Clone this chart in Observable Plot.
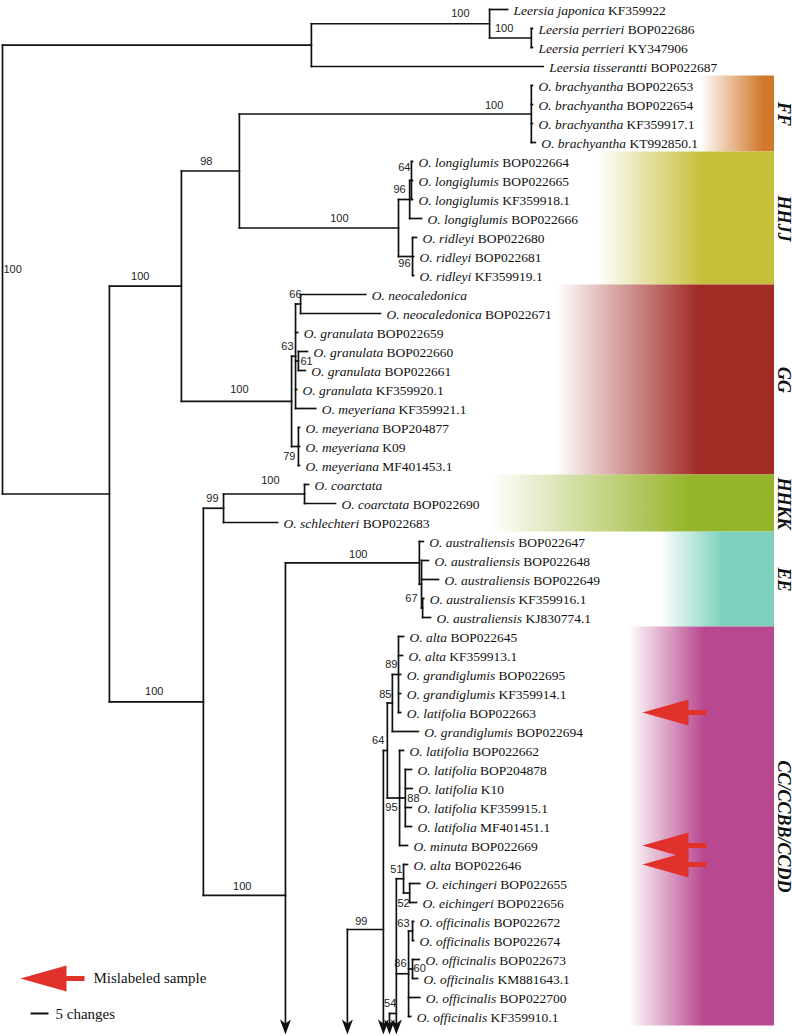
<!DOCTYPE html>
<html><head><meta charset="utf-8">
<script src="https://cdn.jsdelivr.net/npm/d3@7"></script>
<script src="https://cdn.jsdelivr.net/npm/@observablehq/plot@0.6"></script>
<style>
body{margin:0;background:#fff;}
#chart svg{display:block;}
</style></head><body><div id="chart"></div>
<script>
// ---------------- DATA ----------------
// Internal nodes: [id, parent, branch length (changes), bootstrap support]
// parent "off" = the node's parent lies below the cropped figure; the length is then its depth from the root.
const internalNodes = [
  ["root", null, 0, 100],
  ["Leer", "root", 85.8, null],
  ["LeerA", "Leer", 49.5, 100],
  ["LeerP", "LeerA", 11.6, 100],
  ["Ory", "root", 29.7, null],
  ["FHG", "Ory", 20.0, 100],
  ["FH", "FHG", 16.1, 98],
  ["FF", "FH", 81.1, 100],
  ["HJ", "FH", 44.2, 100],
  ["HJlong", "HJ", 3.1, 96],
  ["HJlong64", "HJlong", 0.5, 64],
  ["HJrid", "HJ", 3.9, 96],
  ["GG", "FHG", 30.6, 100],
  ["GG63", "GG", 1.1, 63],
  ["GGneo", "GG63", 1.4, 66],
  ["GGgran", "GG63", 0.8, 61],
  ["GGmey", "GG", 1.9, 79],
  ["KE", "Ory", 26.1, 100],
  ["KS", "KE", 5.6, 99],
  ["KK", "KS", 22.5, 100],
  ["EC", "KE", 22.8, 100],
  ["EE", "EC", 37.2, 100],
  ["EE2", "EE", 0.6, null],
  ["EE67", "EE2", 0.3, 67],
  ["C99", "off", 95.8, null],
  ["C64", "C99", 10.0, 99],
  ["C64b", "C64", 1.1, 64],
  ["C85", "C64b", 1.4, 85],
  ["C89", "C85", 1.7, 89],
  ["C95", "C64b", 3.4, 95],
  ["C88", "C95", 1.6, 88],
  ["C54", "off", 107.5, null],
  ["C54b", "C54", 1.9, 54],
  ["C51", "C54b", 2.0, 51],
  ["C52", "C51", 1.7, 52],
  ["C86", "C54b", 3.4, 86],
  ["C63", "C86", 1.1, 63],
  ["C60", "C86", 1.1, 60]
];

// Leaves in drawing order: [species, accession, parent, branch length (changes)]
const leaves = [
  ["Leersia japonica", "KF359922", "LeerA", 5.0],
  ["Leersia perrieri", "BOP022686", "LeerP", 0.3],
  ["Leersia perrieri", "KY347906", "LeerP", 0.3],
  ["Leersia tisserantti", "BOP022687", "Leer", 64.4],
  ["O. brachyantha", "BOP022653", "FF", 0.3],
  ["O. brachyantha", "BOP022654", "FF", 0.3],
  ["O. brachyantha", "KF359917.1", "FF", 0.3],
  ["O. brachyantha", "KT992850.1", "FF", 1.1],
  ["O. longiglumis", "BOP022664", "HJlong64", 0.3],
  ["O. longiglumis", "BOP022665", "HJlong64", 0.3],
  ["O. longiglumis", "KF359918.1", "HJlong64", 0.3],
  ["O. longiglumis", "BOP022666", "HJlong", 3.3],
  ["O. ridleyi", "BOP022680", "HJrid", 1.1],
  ["O. ridleyi", "BOP022681", "HJrid", 0.3],
  ["O. ridleyi", "KF359919.1", "HJrid", 0.3],
  ["O. neocaledonica", "", "GGneo", 18.1],
  ["O. neocaledonica", "BOP022671", "GGneo", 22.2],
  ["O. granulata", "BOP022659", "GG63", 0.6],
  ["O. granulata", "BOP022660", "GGgran", 2.5],
  ["O. granulata", "BOP022661", "GGgran", 1.9],
  ["O. granulata", "KF359920.1", "GG63", 0.3],
  ["O. meyeriana", "KF359921.1", "GG63", 5.6],
  ["O. meyeriana", "BOP204877", "GGmey", 0.3],
  ["O. meyeriana", "K09", "GGmey", 0.3],
  ["O. meyeriana", "MF401453.1", "GGmey", 0.3],
  ["O. coarctata", "", "KK", 1.1],
  ["O. coarctata", "BOP022690", "KK", 8.6],
  ["O. schlechteri", "BOP022683", "KS", 15.0],
  ["O. australiensis", "BOP022647", "EE", 1.1],
  ["O. australiensis", "BOP022648", "EE2", 1.9],
  ["O. australiensis", "BOP022649", "EE2", 4.7],
  ["O. australiensis", "KF359916.1", "EE67", 0.3],
  ["O. australiensis", "KJ830774.1", "EE67", 2.2],
  ["O. alta", "BOP022645", "C89", 1.4],
  ["O. alta", "KF359913.1", "C89", 1.1],
  ["O. grandiglumis", "BOP022695", "C89", 0.6],
  ["O. grandiglumis", "KF359914.1", "C89", 0.6],
  ["O. latifolia", "BOP022663", "C89", 0.6],
  ["O. grandiglumis", "BOP022694", "C85", 7.2],
  ["O. latifolia", "BOP022662", "C95", 1.1],
  ["O. latifolia", "BOP204878", "C88", 1.7],
  ["O. latifolia", "K10", "C88", 1.9],
  ["O. latifolia", "KF359915.1", "C88", 1.7],
  ["O. latifolia", "MF401451.1", "C88", 1.7],
  ["O. minuta", "BOP022669", "C95", 2.2],
  ["O. alta", "BOP022646", "C51", 1.1],
  ["O. eichingeri", "BOP022655", "C52", 2.8],
  ["O. eichingeri", "BOP022656", "C52", 1.9],
  ["O. officinalis", "BOP022672", "C63", 0.3],
  ["O. officinalis", "BOP022674", "C63", 0.3],
  ["O. officinalis", "BOP022673", "C60", 1.9],
  ["O. officinalis", "KM881643.1", "C60", 1.4],
  ["O. officinalis", "BOP022700", "C86", 3.1],
  ["O. officinalis", "KF359910.1", "C86", 0.6]
];

// Nodes whose lineage continues below the cropped figure (drawn with arrows)
const continuingNodes = ["EC", "C99", "C64", "C54", "C54b"];
// Row (leaf-index units) where the parent branch meets those nodes
const joinRows = [["EC", 46.63], ["C64", 48.42], ["C54b", 52.84]];

// Genome-type clades: names, first and last leaf row, colours
const cladeNames = ["FF", "HHJJ", "GG", "HHKK", "EE", "CC/CCBB/CCDD"];
const cladeFirst = [4, 8, 15, 25, 28, 33];
const cladeLast = [7, 14, 24, 27, 32, 53];
const cladeColors = ["#D2782B", "#C6BF3A", "#A12C26", "#97B52B", "#7ED1BD", "#B8488F"];

// Mislabeled samples (accessions)
const mislabeled = ["BOP022663", "BOP022669", "BOP022646"];
const scaleBarChanges = 5;

// ---------------- LAYOUT / STYLE ----------------
const PXC = 3.6, X0 = 2, ROWPX = 19, Y0 = 9;
const xAt = px => (px - X0) / PXC;      // pixel -> changes
const rowAt = px => (px - Y0) / ROWPX;  // pixel -> row
const SERIF = "'Liberation Serif','Times New Roman',serif";
const SANS = "'Liberation Sans',Arial,sans-serif";
const cladeFadeStartPx = [700, 597, 556, 490, 660, 628];
const cladeSolidAt = [0.85, 0.6, 0.65, 0.7, 0.55, 0.52];
const cladeRightPx = 774, cladeLabelPx = 783;
// support label placement: [anchor, dx px, dy px]
const supportPlacement = {
  root: ["start", 1, 0], LeerA: ["end", -20, -10], LeerP: ["end", -18, -10],
  FF: ["end", -28, -9], FH: ["end", -27, -10], HJ: ["end", -50, -10],
  HJlong: ["end", -4, -10], HJlong64: ["end", -1, -13], HJrid: ["end", -2, 7],
  FHG: ["end", -32, -10], GG: ["end", -43, -12], GGneo: ["end", 1, -10],
  GG63: ["end", -2, -10], GGgran: ["start", 2, 0], GGmey: ["end", -3, 10],
  KE: ["end", -40, -10], KS: ["end", -5, -10], KK: ["end", -25, -14],
  EC: ["end", -34, -9], EE: ["end", -52, -8], EE67: ["end", -5, -10],
  C64: ["end", -16, -8], C64b: ["end", -3, -10], C85: ["end", -1, -9],
  C89: ["end", -1, -10], C95: ["end", -2, 9], C88: ["start", 2, 0],
  C54b: ["end", 0, -10], C51: ["end", -1, -9], C52: ["end", 0, 10],
  C63: ["end", -3, -8], C86: ["end", -2, -10], C60: ["start", 1, -1]
};
const CONT_LINE_END = rowAt(1027), CONT_TIP = rowAt(1034);

// ---------------- BUILD TREE ----------------
const N = new Map();
internalNodes.forEach(([id, parent, len, support]) => N.set(id, {id, parent, len, support, children: [], leaf: false}));
leaves.forEach(([species, acc, parent, len], i) => N.set("leaf" + i, {id: "leaf" + i, parent, len, species, acc, row: i, children: [], leaf: true}));
for (const n of N.values()) if (n.parent && N.has(n.parent)) N.get(n.parent).children.push(n);
const joinMap = new Map(joinRows);
function depth(n) {
  if (n.depth !== undefined) return n.depth;
  return n.depth = n.parent === null ? 0 : (N.has(n.parent) ? depth(N.get(n.parent)) + n.len : n.len);
}
function row(n) {
  if (n.row !== undefined) return n.row;
  if (joinMap.has(n.id)) return n.row = joinMap.get(n.id);
  const rs = n.children.map(row);
  return n.row = (Math.min(...rs) + Math.max(...rs)) / 2;
}
for (const n of N.values()) { depth(n); row(n); }

const segs = [];
for (const n of N.values()) {
  if (n.parent && N.has(n.parent)) segs.push({x1: N.get(n.parent).depth, x2: n.depth, y1: n.row, y2: n.row});
  if (!n.leaf) {
    const rs = n.children.map(c => c.row);
    const top = Math.min(...rs);
    const bot = continuingNodes.includes(n.id) ? CONT_LINE_END : Math.max(...rs);
    segs.push({x1: n.depth, x2: n.depth, y1: top, y2: bot});
  }
}
const arrowTips = continuingNodes.map(id => ({x: N.get(id).depth, y: CONT_TIP}));

const supports = [...N.values()].filter(n => n.support != null).map(n => {
  const [anchor, dx, dy] = supportPlacement[n.id];
  return {anchor, x: n.depth + dx / PXC, y: n.row + dy / ROWPX, text: String(n.support)};
});

const leafData = [...N.values()].filter(n => n.leaf).sort((a, b) => a.row - b.row)
  .map(n => ({x: n.depth + 6 / PXC, y: n.row, species: n.species, acc: n.acc,
              label: n.species + (n.acc ? " " + n.acc : "")}));

const clades = cladeNames.map((name, i) => ({name, i, first: cladeFirst[i], last: cladeLast[i], color: cladeColors[i]}));
const misRows = mislabeled.map(acc => leaves.findIndex(l => l[1] === acc));

// symbols
const downArrow = {draw(ctx) { ctx.moveTo(0, 0); ctx.lineTo(-5.5, -15); ctx.lineTo(0, -11); ctx.lineTo(5.5, -15); ctx.closePath(); }};
const redArrow = {draw(ctx) {
  ctx.moveTo(0, 0); ctx.lineTo(46, -13); ctx.lineTo(46, -2.5); ctx.lineTo(64, -2.5);
  ctx.lineTo(64, 2.5); ctx.lineTo(46, 2.5); ctx.lineTo(46, 13); ctx.closePath();
}};

const defsMark = () => {
  const ns = "http://www.w3.org/2000/svg";
  const defs = document.createElementNS(ns, "defs");
  clades.forEach((c, i) => {
    const g = document.createElementNS(ns, "linearGradient");
    g.setAttribute("id", "cladeGrad" + i);
    g.setAttribute("x1", "0"); g.setAttribute("x2", "1"); g.setAttribute("y1", "0"); g.setAttribute("y2", "0");
    [[0, 0], [cladeSolidAt[i], 1], [1, 1]].forEach(([o, op]) => {
      const s = document.createElementNS(ns, "stop");
      s.setAttribute("offset", o); s.setAttribute("stop-color", c.color); s.setAttribute("stop-opacity", op);
      g.appendChild(s);
    });
    defs.appendChild(g);
  });
  return defs;
};

const plot = Plot.plot({
  width: 792, height: 1036, margin: 0,
  x: {domain: [0, 220], range: [2, 794], axis: null},
  y: {domain: [0, 53], range: [9, 1016], axis: null},
  style: {background: "#fff", overflow: "visible"},
  marks: [
    defsMark,
    ...clades.map((c, i) => Plot.rect([c], {
      x1: () => xAt(cladeFadeStartPx[i]), x2: () => xAt(cladeRightPx),
      y1: d => d.first - 0.5, y2: d => d.last + 0.5, fill: `url(#cladeGrad${i})`
    })),
    Plot.text(clades, {x: () => xAt(cladeLabelPx), y: d => (d.first + d.last) / 2, text: "name", rotate: 90,
      fontFamily: SERIF, fontWeight: "bold", fontStyle: "italic", fontSize: 18, fill: "#111"}),
    Plot.link(segs, {x1: "x1", x2: "x2", y1: "y1", y2: "y2", stroke: "#111", strokeWidth: 1.7, strokeLinecap: "square"}),
    Plot.dot(arrowTips, {x: "x", y: "y", symbol: downArrow, fill: "#111", r: 5}),
    Plot.text(supports.filter(d => d.anchor === "end"), {x: "x", y: "y", text: "text", textAnchor: "end",
      fontFamily: SANS, fontSize: 11, fill: "#222"}),
    Plot.text(supports.filter(d => d.anchor === "start"), {x: "x", y: "y", text: "text", textAnchor: "start",
      fontFamily: SANS, fontSize: 11, fill: "#222"}),
    Plot.text(leafData, {x: "x", y: "y", text: "label", textAnchor: "start",
      dy: 1, fontFamily: SERIF, fontSize: 13.5, fill: "#111"}),
    Plot.dot(misRows, {x: () => xAt(642), y: d => d, symbol: redArrow, fill: "#E0312B", r: 5}),
    // legend
    Plot.dot([0], {x: () => xAt(20), y: () => rowAt(978), symbol: redArrow, fill: "#E0312B", r: 5}),
    Plot.text(["Mislabeled sample"], {x: () => xAt(93), y: () => rowAt(978), text: d => d, textAnchor: "start",
      fontFamily: SERIF, fontSize: 15, fill: "#111"}),
    Plot.link([scaleBarChanges], {x1: () => xAt(30), x2: d => xAt(30) + d, y1: () => rowAt(1013), y2: () => rowAt(1013),
      stroke: "#111", strokeWidth: 2}),
    Plot.text([scaleBarChanges], {x: () => xAt(55), y: () => rowAt(1014), text: d => `${d} changes`, textAnchor: "start",
      fontFamily: SERIF, fontSize: 15, fill: "#111"})
  ]
});

// italic species + roman accession
const labelMap = new Map(leafData.map(d => [d.label, d]));
plot.querySelectorAll("text").forEach(t => {
  const d = labelMap.get(t.textContent);
  if (!d) return;
  const s = d3.select(t);
  s.text(null);
  s.append("tspan").attr("font-style", "italic").text(d.species);
  if (d.acc) s.append("tspan").attr("font-style", "normal").text(" " + d.acc);
});

document.getElementById("chart").appendChild(plot);
</script>
</body></html>
